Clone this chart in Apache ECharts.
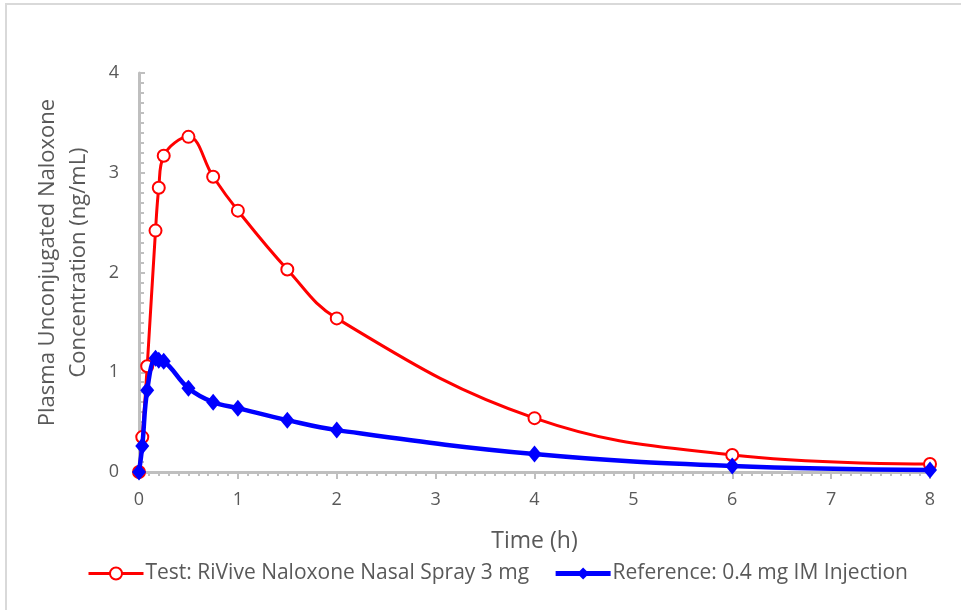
<!DOCTYPE html>
<html>
<head>
<meta charset="utf-8">
<script src="https://cdn.jsdelivr.net/npm/echarts@6/dist/echarts.min.js"></script>
<style>
html,body{margin:0;padding:0;background:#fff;}
#chart{width:961px;height:610px;}
</style>
</head>
<body>
<div id="chart"></div>
<script>
var times = [0, 0.033, 0.083, 0.167, 0.2, 0.25, 0.5, 0.75, 1, 1.5, 2, 4, 6, 8];
var testValues = [0, 0.35, 1.06, 2.42, 2.85, 3.17, 3.36, 2.96, 2.62, 2.03, 1.54, 0.54, 0.17, 0.08];
var refValues = [0, 0.26, 0.82, 1.14, 1.12, 1.11, 0.84, 0.70, 0.64, 0.52, 0.42, 0.18, 0.06, 0.02];
var seriesNames = ['Test: RiVive Naloxone Nasal Spray 3 mg', 'Reference: 0.4 mg IM Injection'];
var xTitle = 'Time (h)';
var yTitle = 'Plasma Unconjugated Naloxone\nConcentration (ng/mL)';

function pairs(xs, ys) { return xs.map(function (x, i) { return [x, ys[i]]; }); }

var FONT = '"Open Sans", Lato, sans-serif';
var TXT = '#595959';
var AXIS = '#bfbfbf';

var chart = echarts.init(document.getElementById('chart'), null, {renderer: 'canvas'});
chart.setOption({
  animation: false,
  backgroundColor: '#ffffff',
  textStyle: {fontFamily: FONT},
  graphic: [{
    type: 'rect', silent: true,
    shape: {x: 6, y: 4, width: 1200, height: 1200},
    style: {fill: 'none', stroke: '#d9d9d9', lineWidth: 2}
  }],
  grid: {left: 139, right: 31, top: 73, bottom: 138, containLabel: false},
  legend: {
    left: 82, top: 558,
    itemWidth: 55, itemHeight: 15, itemGap: 24,
    textStyle: {color: TXT, fontSize: 21, fontFamily: FONT, padding: [0, 0, 0, -3]},
    data: [
      {name: seriesNames[0], lineStyle: {width: 3}},
      {name: seriesNames[1], lineStyle: {width: 5}}
    ]
  },
  xAxis: {
    type: 'value', min: 0, max: 8, interval: 1,
    name: xTitle, nameLocation: 'middle', nameGap: 58,
    nameTextStyle: {color: TXT, fontSize: 23, fontFamily: FONT},
    axisLine: {show: true, onZero: false, lineStyle: {color: AXIS, width: 3}},
    axisTick: {show: true, length: 7, lineStyle: {color: AXIS, width: 2}},
    minorTick: {show: true, splitNumber: 10, length: 4, lineStyle: {color: AXIS, width: 2}},
    axisLabel: {color: TXT, fontSize: 18, margin: 19, fontFamily: FONT},
    splitLine: {show: false}
  },
  yAxis: {
    type: 'value', min: 0, max: 4, interval: 1,
    name: yTitle, nameLocation: 'middle', nameGap: 45, nameRotate: 90,
    nameTextStyle: {color: TXT, fontSize: 22, lineHeight: 31, fontFamily: FONT, align: 'center', padding: [0, 0, 0, 20]},
    axisLine: {show: true, lineStyle: {color: AXIS, width: 3}},
    axisTick: {show: true, inside: true, length: 6, lineStyle: {color: AXIS, width: 2}},
    minorTick: {show: true, splitNumber: 10, length: 5, lineStyle: {color: AXIS, width: 2}},
    axisLabel: {color: TXT, fontSize: 18, margin: 20, fontFamily: FONT},
    splitLine: {show: false}
  },
  series: [{
    name: seriesNames[0], type: 'line',
    data: pairs(times, testValues),
    smooth: 0.4,
    symbol: 'emptyCircle', symbolSize: 12,
    lineStyle: {color: '#ff0000', width: 3},
    itemStyle: {color: '#ff0000', borderColor: '#ff0000', borderWidth: 2},
    z: 2
  }, {
    name: seriesNames[1], type: 'line',
    data: pairs(times, refValues),
    smooth: 0.4,
    symbol: 'diamond', symbolSize: [14, 17],
    lineStyle: {color: '#0000ff', width: 4.5},
    itemStyle: {color: '#0000ff', borderColor: '#0000ff', borderWidth: 0},
    z: 3
  }]
});
</script>
</body>
</html>
